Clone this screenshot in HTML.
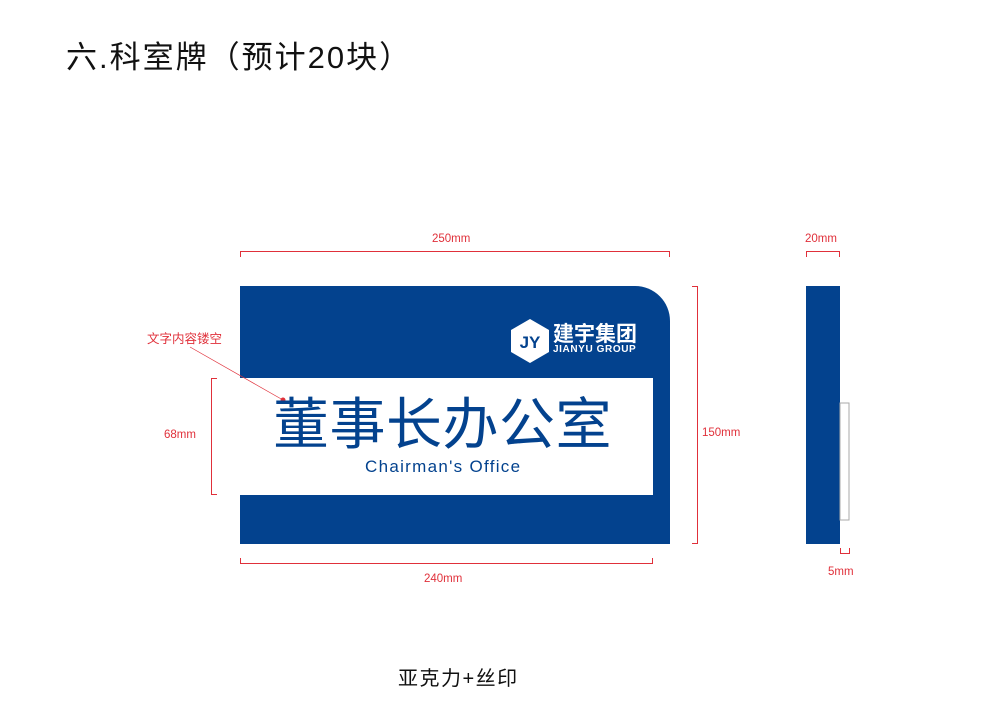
<!DOCTYPE html>
<html><head><meta charset="utf-8"><style>
html,body{margin:0;padding:0;background:#fff;}
body{width:1000px;height:707px;position:relative;overflow:hidden;font-family:"Liberation Sans","Noto Sans CJK SC",sans-serif;}
.t{position:absolute;white-space:nowrap;}
.r{color:#e0303a;font-size:11.5px;}
</style></head><body>
<div class="t" style="left:66px;top:32px;font-size:31px;color:#111;letter-spacing:2px;">六.科室牌（预计20块）</div>

<svg width="1000" height="707" style="position:absolute;left:0;top:0">
  <path d="M240 286 H635 A35 35 0 0 1 670 321 V544 H240 Z" fill="#03428e"/>
  <rect x="240" y="378" width="413" height="117" fill="#fff"/>
  <polygon points="530,319 549,330 549,352 530,363 511,352 511,330" fill="#fff"/>
  <text x="530" y="348" font-size="17" font-weight="bold" fill="#03428e" text-anchor="middle" font-family="Liberation Sans">JY</text>
  <rect x="806" y="286" width="34" height="258" fill="#03428e"/>
  <rect x="840" y="403" width="9" height="117" fill="none" stroke="#aaa" stroke-width="1"/>
  <g stroke="#e0303a" stroke-width="1" fill="none">
    <path d="M240.5 257 V251.5 H669.5 V257"/>
    <path d="M240.5 558 V563.5 H652.5 V558"/>
    <path d="M692 286.5 H697.5 V543.5 H692"/>
    <path d="M217 378.5 H211.5 V494.5 H217"/>
    <path d="M806.5 257 V251.5 H839.5 V257"/>
    <path d="M840.5 548 V553.5 H849.5 V548"/>
    <path d="M190 347 L283 400" stroke-width="0.7"/>
  </g>
  <circle cx="283" cy="400" r="2.5" fill="#e0303a"/>
</svg>

<div class="t" style="left:553px;top:318px;font-size:21px;font-weight:bold;color:#fff;">建宇集团</div>
<div class="t" style="left:553px;top:344px;font-size:10px;font-weight:bold;color:#fff;letter-spacing:0.6px;">JIANYU GROUP</div>

<div class="t" style="left:273px;top:380px;font-size:56px;color:#03428e;letter-spacing:0.5px;">董事长办公室</div>
<div class="t" style="left:365px;top:457px;font-size:17px;color:#03428e;letter-spacing:1.3px;">Chairman's Office</div>

<div class="t r" style="left:432px;top:233px;">250mm</div>
<div class="t r" style="left:424px;top:573px;">240mm</div>
<div class="t r" style="left:702px;top:427px;">150mm</div>
<div class="t r" style="left:164px;top:429px;">68mm</div>
<div class="t r" style="left:805px;top:233px;">20mm</div>
<div class="t r" style="left:828px;top:566px;">5mm</div>
<div class="t r" style="left:147px;top:328px;font-size:12.5px;">文字内容镂空</div>

<div class="t" style="left:398px;top:662px;font-size:20px;color:#111;letter-spacing:1.5px;">亚克力+丝印</div>
</body></html>
